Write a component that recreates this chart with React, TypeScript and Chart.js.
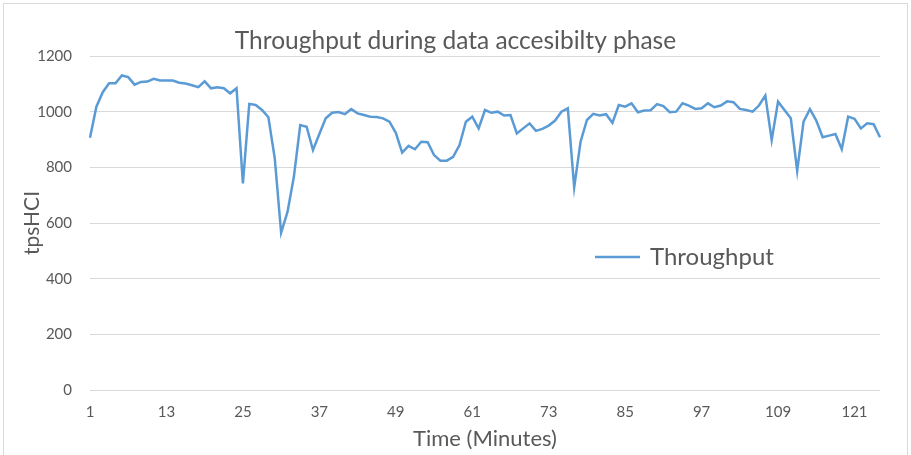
import React, { useEffect, useRef } from "react";
import { Chart, registerables } from "chart.js";

Chart.register(...registerables);

const minutes: string[] = Array.from({ length: 125 }, (_, i) => String(i + 1));
const xTickLabels = ["1", "13", "25", "37", "49", "61", "73", "85", "97", "109", "121"];
const throughput = [
  906, 1018, 1070, 1102, 1102, 1130, 1124, 1097, 1107, 1108,
  1118, 1112, 1112, 1112, 1104, 1101, 1095, 1088, 1109, 1084,
  1088, 1084, 1066, 1084, 742, 1028, 1024, 1006, 980, 832,
  565, 640, 766, 952, 946, 862, 920, 976, 996, 999,
  991, 1009, 994, 988, 982, 981, 976, 964, 924, 853,
  877, 865, 892, 890, 844, 824, 824, 838, 880, 964,
  982, 940, 1006, 996, 1000, 986, 988, 922, 940, 958,
  931, 938, 950, 968, 1000, 1012, 728, 892, 970, 992,
  986, 991, 960, 1024, 1018, 1030, 998, 1004, 1005, 1027,
  1020, 998, 1000, 1030, 1022, 1010, 1012, 1030, 1016, 1022,
  1037, 1034, 1010, 1006, 1000, 1022, 1058, 898, 1036, 1006,
  976, 787, 964, 1009, 968, 908, 914, 920, 865, 982,
  974, 940, 958, 955, 908,
];
const seriesName = "Throughput";
const chartTitle = "Throughput during data accesibilty phase";
const yTitle = "tpsHCI";
const xTitle = "Time (Minutes)";

const FONT = "Lato";
const TEXT = "#595959";
const GRID = "#d9d9d9";
const LINE = "#5B9BD5";

const framePlugin = {
  id: "frame",
  beforeDraw(chart: any) {
    const ctx = chart.ctx;
    ctx.save();
    ctx.fillStyle = "#ffffff";
    ctx.fillRect(0, 0, chart.width, chart.height);
    ctx.strokeStyle = GRID;
    ctx.lineWidth = 1;
    ctx.strokeRect(3.5, 3.5, chart.width - 7, chart.height + 10);
    ctx.restore();
  },
};

const centeredTitle = {
  id: "centeredTitle",
  afterDraw(chart: any) {
    const ctx = chart.ctx;
    ctx.save();
    ctx.fillStyle = TEXT;
    ctx.font = `24.5px ${FONT}`;
    ctx.textAlign = "center";
    ctx.textBaseline = "middle";
    ctx.fillText(chartTitle, chart.width / 2, 41);
    ctx.restore();
  },
};

const insideLegend = {
  id: "insideLegend",
  afterDraw(chart: any) {
    const ctx = chart.ctx;
    const ds = chart.data.datasets[0];
    const x0 = 595;
    const y0 = 257;
    ctx.save();
    ctx.strokeStyle = ds.borderColor;
    ctx.lineWidth = ds.borderWidth;
    ctx.beginPath();
    ctx.moveTo(x0, y0);
    ctx.lineTo(x0 + 45, y0);
    ctx.stroke();
    ctx.fillStyle = TEXT;
    ctx.font = `24px ${FONT}`;
    ctx.textBaseline = "middle";
    ctx.textAlign = "left";
    ctx.fillText(ds.label, x0 + 55, y0);
    ctx.restore();
  },
};

export default function App() {
  const ref = useRef<HTMLCanvasElement | null>(null);
  useEffect(() => {
    document.body.style.margin = "0";
    if (!ref.current) return;
    const chart = new Chart(ref.current, {
      type: "line",
      data: {
        labels: minutes,
        datasets: [
          {
            label: seriesName,
            data: throughput,
            borderColor: LINE,
            backgroundColor: LINE,
            borderWidth: 2.5,
            pointRadius: 0,
            tension: 0,
            fill: false,
          },
        ],
      },
      options: {
        responsive: false,
        animation: false,
        layout: { padding: { left: 0, right: 31, top: 56, bottom: 0 } },
        plugins: {
          legend: { display: false },
          tooltip: { enabled: false },
          title: { display: false },
        },
        scales: {
          x: {
            offset: false,
            grid: { display: false },
            border: { display: false },
            ticks: {
              autoSkip: false,
              maxRotation: 0,
              color: TEXT,
              font: { family: FONT, size: 15 },
              padding: 5,
              callback: function (this: any, value: any) {
                const lab = this.getLabelForValue(value);
                return xTickLabels.includes(lab) ? lab : null;
              },
            },
            title: {
              display: true,
              text: xTitle,
              color: TEXT,
              font: { family: FONT, size: 22 },
              padding: { top: 0, bottom: 3 },
            },
            afterFit(scale: any) {
              scale.height = 65;
            },
          },
          y: {
            min: 0,
            max: 1200,
            grid: { color: GRID, lineWidth: 1, drawTicks: false },
            border: { display: false },
            ticks: {
              stepSize: 200,
              color: TEXT,
              font: { family: FONT, size: 15 },
              padding: 18,
              callback: (v: any) => String(v),
            },
            title: {
              display: true,
              text: yTitle,
              color: TEXT,
              font: { family: FONT, size: 21 },
              padding: { top: 20, bottom: 0 },
            },
            afterFit(scale: any) {
              scale.width = 90;
            },
          },
        },
      },
      plugins: [framePlugin, centeredTitle, insideLegend],
    });
    return () => chart.destroy();
  }, []);
  return <canvas ref={ref} width={911} height={455} />;
}
